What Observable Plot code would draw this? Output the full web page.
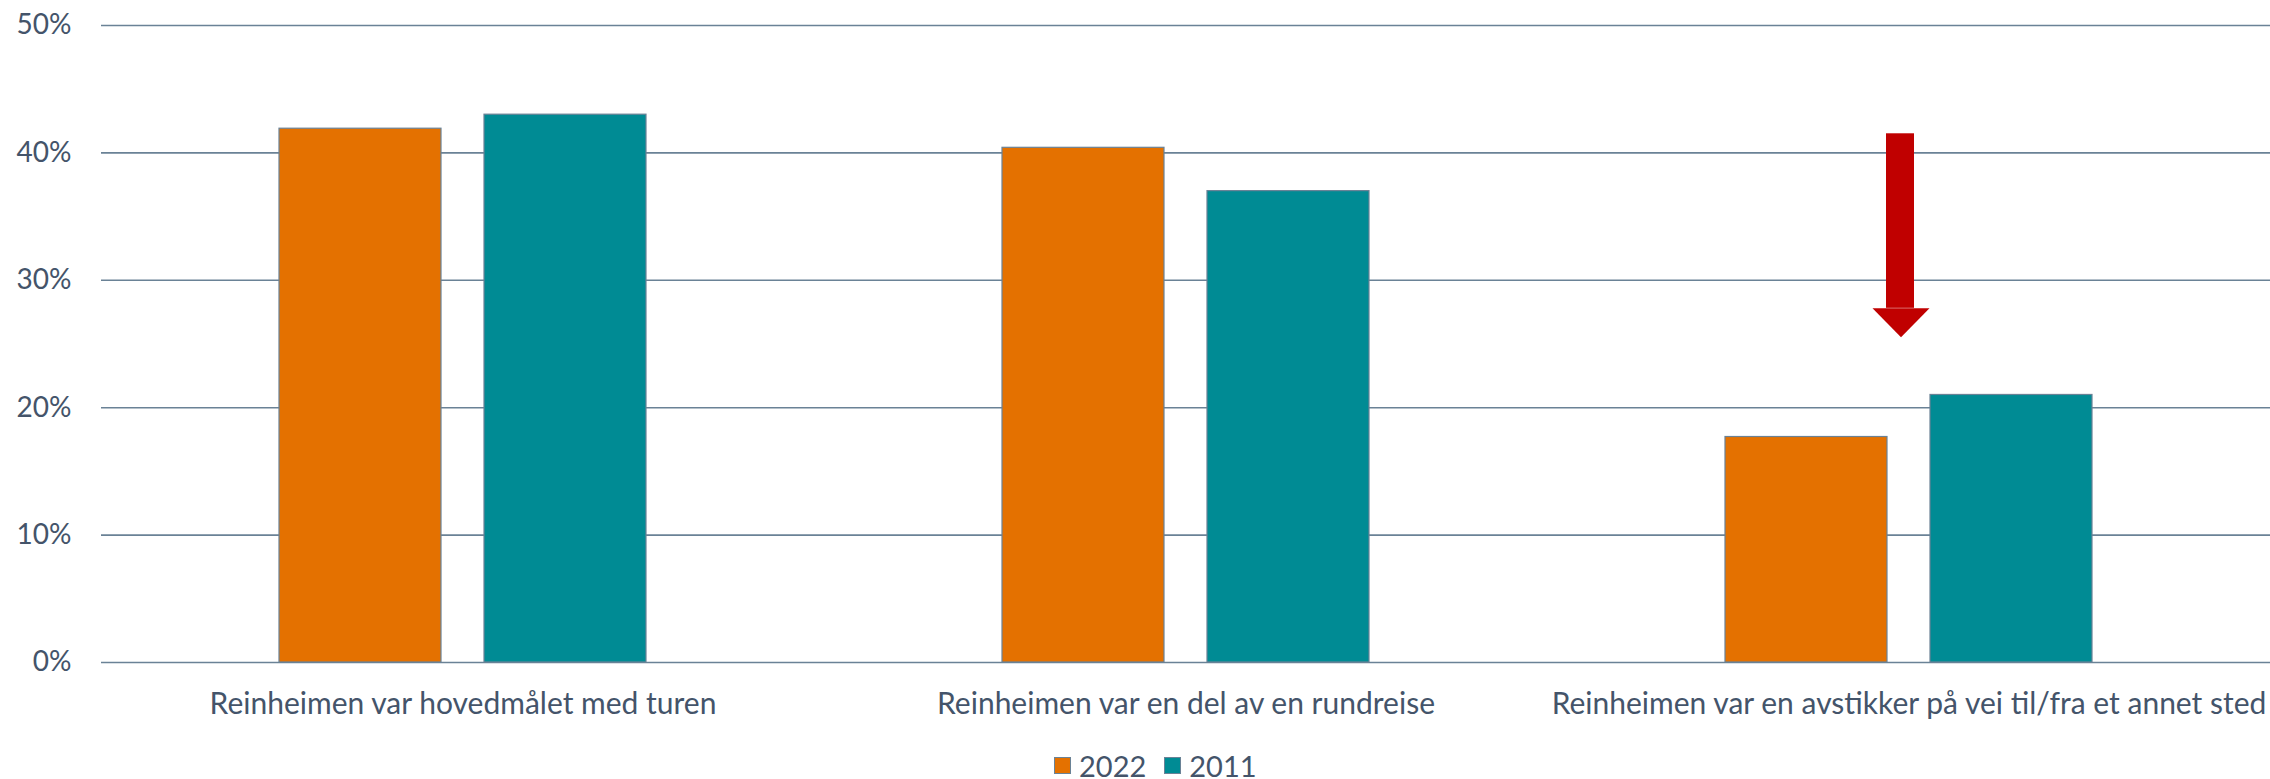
<!DOCTYPE html>
<html>
<head>
<meta charset="utf-8">
<script src="https://cdn.jsdelivr.net/npm/d3@7"></script>
<script src="https://cdn.jsdelivr.net/npm/@observablehq/plot@0.6"></script>
<style>
  html, body { margin: 0; padding: 0; background: #fff; overflow: hidden; }
  #wrap { position: relative; width: 2270px; height: 779px; font-family: Lato, "Open Sans", sans-serif; color: #44546A; }
  #legend { position: absolute; top: 750px; left: 1054px; height: 30px; display: flex; align-items: center; font-size: 29px; }
  .item { display: flex; align-items: center; margin-right: 18px; }
  .sw { width: 15px; height: 15px; border: 1px solid #6A8296; margin-right: 8px; }
  svg g[aria-label="y-axis tick label"] { font-size: 28px; }
</style>
</head>
<body>
<div id="wrap"><div id="chart"></div><div id="legend"></div></div>
<script>
const categories = [
  "Reinheimen var hovedmålet med turen",
  "Reinheimen var en del av en rundreise",
  "Reinheimen var en avstikker på vei til/fra et annet sted"
];
const years = ["2022", "2011"];
const values2022 = [0.419, 0.404, 0.177];
const values2011 = [0.430, 0.370, 0.210];
const yTicks = [0, 0.1, 0.2, 0.3, 0.4, 0.5];
const yearColors = ["#E47100", "#008B94"];

// annotation arrow (in data units)
const arrowCategory = [categories[2]];
const arrowTop = [0.415];
const arrowHeadBase = [0.278];

const rows = [];
categories.forEach((c, i) => {
  rows.push({category: c, year: years[0], value: values2022[i]});
  rows.push({category: c, year: years[1], value: values2011[i]});
});
const arrows = arrowCategory.map((c, i) => ({category: c, top: arrowTop[i], base: arrowHeadBase[i]}));

const downTriangle = {
  draw(context) {
    const w = 57, h = 29;
    context.moveTo(-w / 2, 0);
    context.lineTo(w / 2, 0);
    context.lineTo(0, h);
    context.closePath();
  }
};

const chart = Plot.plot({
  width: 2270,
  height: 740,
  marginTop: 25,
  marginBottom: 78,
  marginLeft: 100,
  marginRight: 0,
  style: {fontFamily: "Lato, 'Open Sans', sans-serif", fontSize: "30px", color: "#44546A", background: "#fff"},
  fx: {domain: categories, padding: 0, label: null, tickSize: 0, tickPadding: 30},
  x: {domain: years, paddingInner: 0.21, paddingOuter: 0.862, axis: null},
  y: {domain: [0, 0.5], ticks: yTicks, tickFormat: d3.format(".0%"), tickSize: 0, tickPadding: 30, label: null},
  color: {domain: years, range: yearColors},
  marks: [
    Plot.ruleY(yTicks, {stroke: "#6A8296", strokeWidth: 1.6}),
    Plot.barY(rows, {fx: "category", x: "year", y: "value", fill: "year", stroke: "#6A8296", strokeWidth: 1.2}),
    Plot.rect(arrows, {fx: "category", y1: "top", y2: "base", fill: "#C00000", insetLeft: 339, insetRight: 356}),
    Plot.dot(arrows, {fx: "category", y: "base", symbol: downTriangle, fill: "#C00000", stroke: "none", dx: -8})
  ]
});
document.getElementById("chart").appendChild(chart);

const legend = document.getElementById("legend");
years.forEach((y, i) => {
  const item = document.createElement("div");
  item.className = "item";
  const sw = document.createElement("div");
  sw.className = "sw";
  sw.style.background = yearColors[i];
  const t = document.createElement("span");
  t.textContent = y;
  item.appendChild(sw);
  item.appendChild(t);
  legend.appendChild(item);
});
</script>
</body>
</html>
